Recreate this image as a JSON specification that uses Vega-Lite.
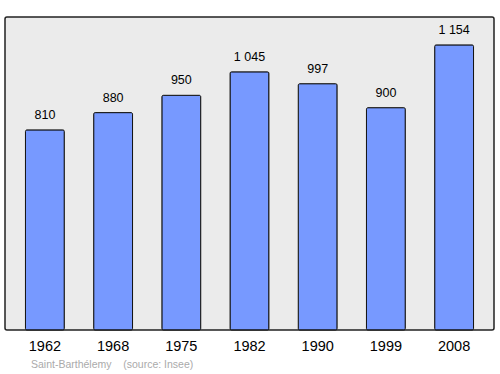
{
  "$schema": "https://vega.github.io/schema/vega-lite/v6.json",
  "width": 489,
  "height": 313,
  "autosize": {"type": "none"},
  "padding": {"left": 5, "top": 17, "right": 6, "bottom": 44},
  "background": "#ffffff",
  "config": {
    "view": {"fill": "#ebebeb", "stroke": "#222222", "strokeWidth": 1.5, "cornerRadius": 2},
    "font": "Liberation Sans"
  },
  "title": {
    "text": "Saint-Barthélemy\u00a0\u00a0\u00a0\u00a0(source: Insee)",
    "orient": "bottom",
    "anchor": "start",
    "dx": 26,
    "offset": 7,
    "fontSize": 10.5,
    "fontWeight": "normal",
    "color": "#aaaaaa",
    "font": "Liberation Sans"
  },
  "data": {
    "values": [
      {"year": "1962", "pop": 810, "label": "810"},
      {"year": "1968", "pop": 880, "label": "880"},
      {"year": "1975", "pop": 950, "label": "950"},
      {"year": "1982", "pop": 1045, "label": "1 045"},
      {"year": "1990", "pop": 997, "label": "997"},
      {"year": "1999", "pop": 900, "label": "900"},
      {"year": "2008", "pop": 1154, "label": "1 154"}
    ]
  },
  "encoding": {
    "x": {
      "field": "year",
      "type": "ordinal",
      "sort": null,
      "scale": {"paddingInner": 0.43, "paddingOuter": 0.3},
      "axis": {
        "title": null,
        "labelAngle": 0,
        "ticks": false,
        "domain": false,
        "labelFontSize": 14.5,
        "labelColor": "#000000",
        "labelPadding": 9,
        "labelFont": "Liberation Sans"
      }
    },
    "y": {
      "field": "pop",
      "type": "quantitative",
      "scale": {"domain": [0, 1267], "nice": false},
      "axis": null
    }
  },
  "layer": [
    {
      "mark": {"type": "bar", "color": "#7799ff", "stroke": "#111111", "strokeWidth": 1, "cornerRadius": 1.5}
    },
    {
      "mark": {"type": "text", "baseline": "bottom", "dy": -8, "fontSize": 12.5, "color": "#000000", "font": "Liberation Sans"},
      "encoding": {"text": {"field": "label"}}
    }
  ]
}
